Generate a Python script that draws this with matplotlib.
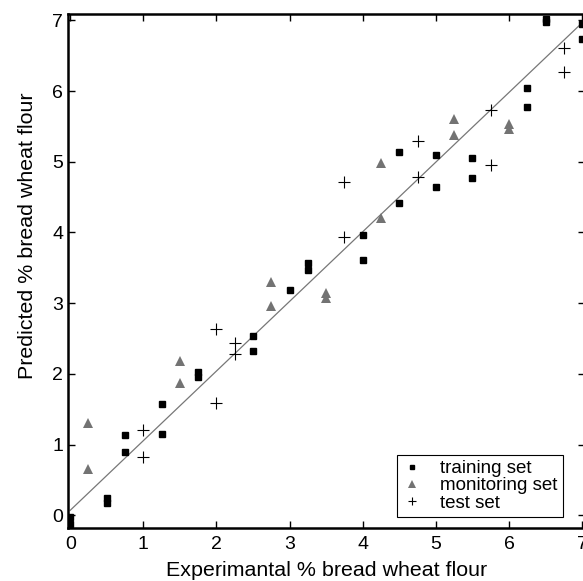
"""
Predicted vs experimental % bread wheat flour (training / monitoring / test sets).
"""

import matplotlib
matplotlib.use("Agg")
import matplotlib.pyplot as plt
import numpy as np

plt.rcParams["font.family"] = ["Liberation Sans", "DejaVu Sans"]

# training set
train_x = [0, 0, 0.5, 0.5, 0.75, 0.75, 1.25, 1.25, 1.75, 1.75, 2.5, 2.5, 3, 3.25, 3.25,
           4, 4, 4.5, 4.5, 5, 5, 5.5, 5.5, 6.25, 6.25, 6.5, 6.5, 7, 7]
train_y = [-0.02, -0.12, 0.25, 0.18, 1.13, 0.90, 1.57, 1.15, 2.02, 1.95, 2.53, 2.32, 3.19, 3.57, 3.47,
           3.96, 3.61, 5.14, 4.41, 5.09, 4.65, 5.05, 4.77, 6.05, 5.77, 7.02, 6.97, 6.95, 6.73]

# monitoring set
mon_x = [0.25, 0.25, 1.5, 1.5, 2.75, 2.75, 3.5, 3.5, 4.25, 4.25, 5.25, 5.25, 6, 6]
mon_y = [1.31, 0.65, 2.18, 1.87, 3.30, 2.96, 3.15, 3.07, 4.98, 4.20, 5.60, 5.38, 5.53, 5.47]

# test set
test_x = [1, 1, 2, 2, 2.25, 2.25, 3.75, 3.75, 4.75, 4.75, 5.75, 5.75, 6.75, 6.75]
test_y = [1.20, 0.83, 2.64, 1.59, 2.43, 2.28, 4.71, 3.93, 5.30, 4.78, 5.73, 4.96, 6.61, 6.27]

# regression line
fit_intercept = 0.07
fit_slope = 0.985

fig = plt.figure(figsize=(5.83, 5.81), dpi=100)
ax = fig.add_axes([68 / 583, 1 - 528 / 581, 517 / 583, 514 / 581])

line_x = np.array([0, 7])
ax.plot(line_x, fit_intercept + fit_slope * line_x, color="#777777", linewidth=0.9, zorder=1)

ax.plot(train_x, train_y, linestyle="none", marker="s", markersize=5, color="black",
        label="training set", zorder=3)
ax.plot(mon_x, mon_y, linestyle="none", marker="^", markersize=7.5, color="#737373",
        markeredgewidth=0, label="monitoring set", zorder=3)
ax.plot(test_x, test_y, linestyle="none", marker="+", markersize=8, color="black",
        markeredgewidth=0.8, label="test set", zorder=3)

ax.set_xlim(-0.03, 7.04)
ax.set_ylim(-0.18, 7.09)
ax.set_xticks(range(0, 8))
ax.set_yticks(range(0, 8))
ax.tick_params(direction="in", top=True, right=True, length=5, width=1, labelsize=14)
ax.tick_params(axis="x", pad=6)
for spine in ax.spines.values():
    spine.set_linewidth(1.8)

ax.set_xlabel("Experimantal % bread wheat flour", fontsize=15.4)
ax.set_ylabel("Predicted % bread wheat flour", fontsize=15.4)
ax.xaxis.set_label_coords(0.5, -0.064)
ax.yaxis.set_label_coords(-0.059, 0.568)

leg = ax.legend(loc="lower right", bbox_to_anchor=(0.957, 0.021), borderaxespad=0,
                fontsize=13.5, markerscale=0.7, handlelength=1.0, handletextpad=1.0,
                labelspacing=0.0, borderpad=0.3, fancybox=False, framealpha=1)
leg.get_frame().set_edgecolor("black")
leg.get_frame().set_linewidth(0.8)

plt.savefig("out.png", dpi=100)
plt.close()
